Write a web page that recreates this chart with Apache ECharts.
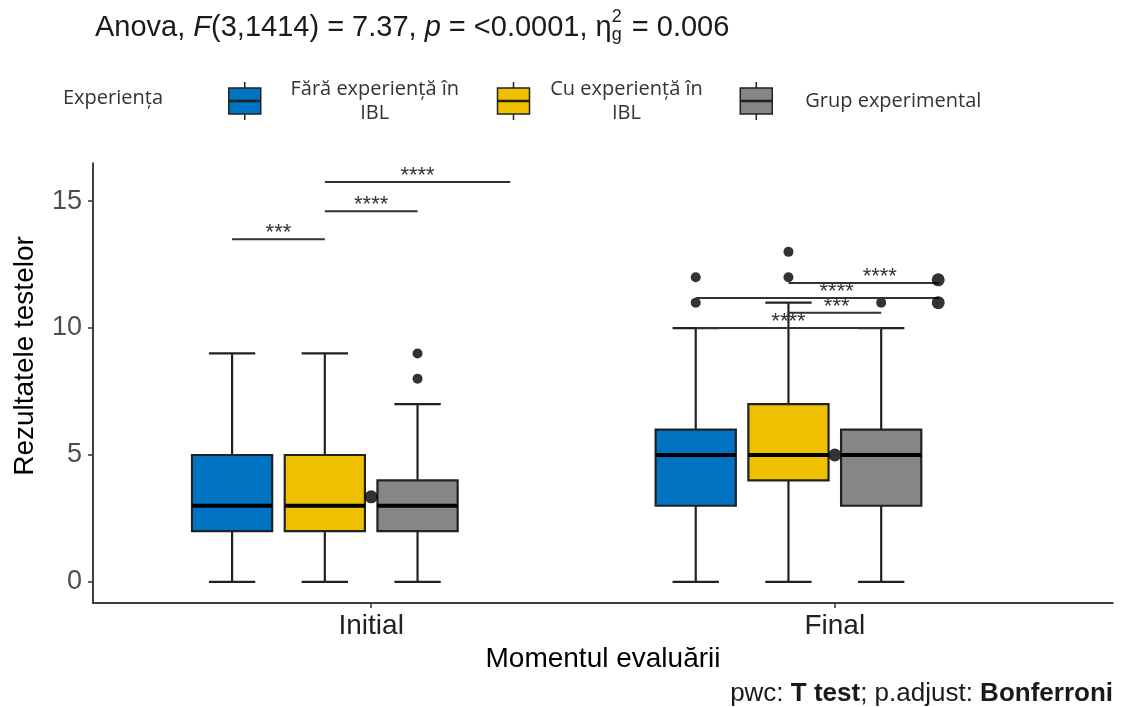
<!DOCTYPE html>
<html>
<head>
<meta charset="utf-8">
<script src="https://cdn.jsdelivr.net/npm/echarts@6/dist/echarts.min.js"></script>
<style>
  html, body { margin: 0; padding: 0; background: #fff; }
  #chart { width: 1123px; height: 707px; }
</style>
</head>
<body>
<div id="chart"></div>
<script>
// categories on the x axis
var categories = ['Initial', 'Final'];
// groups (legend)
var groupNames = ['Fără experiență în IBL', 'Cu experiență în IBL', 'Grup experimental'];
var groupColors = ['#0073C2', '#EFC000', '#868686'];

// five-number summary per category: [min, Q1, median, Q3, max]
var faraIBL = [[0, 2, 3, 5, 9], [0, 3, 5, 6, 10]];
var cuIBL   = [[0, 2, 3, 5, 9], [0, 4, 5, 7, 11]];
var grupExp = [[0, 2, 3, 4, 7], [0, 3, 5, 6, 10]];

// outliers: [categoryIndex, value]
var faraOut = [[1, 11], [1, 12]];
var cuOut   = [[1, 12], [1, 13]];
var grupOut = [[0, 8], [0, 9], [1, 11]];

// mean per category
var means = [3.35, 5.0];

// pairwise comparisons: [x1, x2, y, label, labelX] (x in category units)
var brackets = [
    [-0.3, -0.1, 13.5, '***', -0.2],
    [-0.1, 0.1, 14.6, '****', 0.0],
    [-0.1, 0.3, 15.75, '****', 0.1],
    [0.9, 1.225, 11.77, '****', 1.097],
    [0.7, 1.225, 11.18, '****', 1.004],
    [0.9, 1.1, 10.6, '***', 1.004],
    [0.7, 1.1, 10.0, '****', 0.9]
];
// bracket end dots
var bracketDots = [[1.223, 11.9], [1.223, 11.0]];

// y axis ticks
var yTicks = [0, 5, 10, 15];

// layout
var DODGE = [-0.3, -0.1, 0.1];
var BOX_W = 0.173;
var CAP_W = 0.1;
var LINE_COL = '#222';

var summaries = [faraIBL, cuIBL, grupExp];
var outliers = [faraOut, cuOut, grupOut];

var myChart = echarts.init(document.getElementById('chart'));

//箱线图
function renderBox(params, api) {
    var x = api.value(0);
    var lo = api.coord([x, api.value(1)]);
    var q1 = api.coord([x, api.value(2)]);
    var med = api.coord([x, api.value(3)]);
    var q3 = api.coord([x, api.value(4)]);
    var hi = api.coord([x, api.value(5)]);
    var bw = api.size([BOX_W, 0])[0];
    var cw = api.size([CAP_W, 0])[0];
    var fill = api.visual('color');
    return {
        type: 'group',
        children: [
            { type: 'line', shape: { x1: lo[0], y1: lo[1], x2: hi[0], y2: hi[1] }, style: { stroke: LINE_COL, lineWidth: 2.2 } },
            { type: 'line', shape: { x1: lo[0] - cw / 2, y1: lo[1], x2: lo[0] + cw / 2, y2: lo[1] }, style: { stroke: LINE_COL, lineWidth: 2.2 } },
            { type: 'line', shape: { x1: hi[0] - cw / 2, y1: hi[1], x2: hi[0] + cw / 2, y2: hi[1] }, style: { stroke: LINE_COL, lineWidth: 2.2 } },
            { type: 'rect', shape: { x: q3[0] - bw / 2, y: q3[1], width: bw, height: q1[1] - q3[1] }, style: { fill: fill, stroke: LINE_COL, lineWidth: 2.2 } },
            { type: 'line', shape: { x1: med[0] - bw / 2, y1: med[1], x2: med[0] + bw / 2, y2: med[1] }, style: { stroke: '#000', lineWidth: 4 } }
        ]
    };
}

//显著性标注
function renderBracket(params, api) {
    var a = api.coord([api.value(0), api.value(2)]);
    var b = api.coord([api.value(1), api.value(2)]);
    var t = api.coord([api.value(4), api.value(2)]);
    return {
        type: 'group',
        children: [
            { type: 'line', shape: { x1: a[0], y1: a[1], x2: b[0], y2: b[1] }, style: { stroke: '#333', lineWidth: 2 } },
            { type: 'text', x: t[0], y: a[1] - 6, style: { text: brackets[params.dataIndex][3], fill: '#333', font: '22px "Liberation Sans"', align: 'center', verticalAlign: 'middle' } }
        ]
    };
}

var series = [];
for (var g = 0; g < groupNames.length; g++) {
    (function (g) {
        series.push({
            name: groupNames[g],
            type: 'custom',
            renderItem: renderBox,
            itemStyle: { color: groupColors[g], borderColor: LINE_COL, borderWidth: 1.5 },
            encode: { x: 0, y: [1, 2, 3, 4, 5] },
            data: summaries[g].map(function (s, i) { return [i + DODGE[g]].concat(s); }),
            z: 2
        });
    })(g);
}
var outPoints = [];
for (var g2 = 0; g2 < outliers.length; g2++) {
    outliers[g2].forEach(function (o) { outPoints.push([o[0] + DODGE[g2], o[1]]); });
}
series.push({
    name: 'outliers', type: 'scatter', symbolSize: 10, itemStyle: { color: '#000' },
    data: outPoints, z: 3, silent: true
});
series.push({
    name: 'mean', type: 'scatter', symbolSize: 13, itemStyle: { color: '#000' },
    data: means.map(function (m, i) { return [i, m]; }), z: 4, silent: true
});
series.push({
    name: 'brackets', type: 'custom', renderItem: renderBracket,
    encode: { x: [0, 1], y: 2 }, data: brackets.map(function (b) { return [b[0], b[1], b[2], 0, b[4]]; }), z: 5, silent: true
});
series.push({
    name: 'bracketDots', type: 'scatter', symbolSize: 13, itemStyle: { color: '#000' },
    data: bracketDots, z: 6, silent: true
});

var legendIcon = 'path://M17,0 V6 M17,32 V38 M1,6 H33 V18.5 H1 Z M1,19.5 H33 V32 H1 Z';
var legendFont = { fontFamily: 'Open Sans', fontSize: 20, color: '#333', lineHeight: 24 };

var option = {
    animation: false,
    backgroundColor: '#fff',
    title: {
        left: 95, top: 8, padding: 0,
        text: '{n|Anova, }{i|F}{n|(3,1414) = 7.37, }{i|p}{n| = <0.0001, η}{sup|2}{sub|g}{n| = 0.006}',
        textStyle: {
            rich: {
                n: { fontFamily: 'Liberation Sans', fontSize: 29, fontWeight: 'normal', color: '#1a1a1a', lineHeight: 40 },
                i: { fontFamily: 'Liberation Sans', fontSize: 29, fontWeight: 'normal', fontStyle: 'italic', color: '#1a1a1a', lineHeight: 40 },
                sup: { fontFamily: 'Liberation Sans', fontSize: 18, fontWeight: 'normal', color: '#1a1a1a', lineHeight: 14, verticalAlign: 'top', width: 0 },
                sub: { fontFamily: 'Liberation Sans', fontSize: 18, fontWeight: 'normal', color: '#1a1a1a', lineHeight: 18, verticalAlign: 'bottom', padding: [0, 2, 4, 0] }
            }
        }
    },
    legend: {
        left: 228, top: 79, padding: 0,
        itemWidth: 34, itemHeight: 38, itemGap: 14,
        selectedMode: false,
        data: groupNames.map(function (n, i) {
            return { name: n, icon: legendIcon, itemStyle: { color: groupColors[i], borderColor: LINE_COL, borderWidth: 1.5 } };
        }),
        formatter: function (name) {
            if (name === groupNames[0]) return '{a|Fără experiență în}\n{a|IBL}';
            if (name === groupNames[1]) return '{b|Cu experiență în}\n{b|IBL}';
            return '{c|' + name + '}';
        },
        textStyle: {
            rich: {
                a: Object.assign({ width: 216, align: 'center' }, legendFont),
                b: Object.assign({ width: 182, align: 'center', padding: [0, 8, 0, 0] }, legendFont),
                c: Object.assign({ padding: [0, 0, 0, 27] }, legendFont)
            }
        }
    },
    grid: { left: 93, right: 10, top: 163, bottom: 104 },
    xAxis: {
        type: 'value', min: -0.6, max: 1.6,
        name: 'Momentul evaluării', nameLocation: 'middle', nameGap: 42,
        nameTextStyle: { fontFamily: 'Liberation Sans', fontSize: 28, color: '#000' },
        axisLine: { onZero: false, lineStyle: { color: '#000', width: 1.5 } },
        axisTick: { customValues: [0, 1], length: 5, lineStyle: { color: '#333', width: 1.5 } },
        axisLabel: {
            customValues: [0, 1], margin: 9,
            formatter: function (v) { return categories[Math.round(v)]; },
            fontFamily: 'Liberation Sans', fontSize: 28, color: '#222'
        },
        splitLine: { show: false }
    },
    yAxis: {
        type: 'value', min: -0.83, max: 16.5,
        name: 'Rezultatele testelor', nameLocation: 'middle', nameGap: 54,
        nameTextStyle: { fontFamily: 'Liberation Sans', fontSize: 28, color: '#000', padding: [0, 0, 0, 54] },
        axisLine: { show: true, onZero: false, lineStyle: { color: '#000', width: 1.5 } },
        axisTick: { show: true, customValues: yTicks, length: 5, lineStyle: { color: '#333', width: 1.5 } },
        axisLabel: { customValues: yTicks, margin: 11, fontFamily: 'Liberation Sans', fontSize: 27, color: '#4D4D4D' },
        splitLine: { show: false }
    },
    graphic: [
        { type: 'text', left: 63, top: 88, style: { text: 'Experiența', font: '20px "Open Sans"', fill: '#333' } },
        {
            type: 'text', right: 10, bottom: 0,
            style: {
                text: '{n|pwc: }{b|T test}{n|; p.adjust: }{b|Bonferroni}',
                rich: {
                    n: { fontFamily: 'Liberation Sans', fontSize: 26, fill: '#1a1a1a' },
                    b: { fontFamily: 'Liberation Sans', fontSize: 26, fontWeight: 'bold', fill: '#1a1a1a' }
                }
            }
        }
    ],
    series: series
};
myChart.setOption(option);
</script>
</body>
</html>
